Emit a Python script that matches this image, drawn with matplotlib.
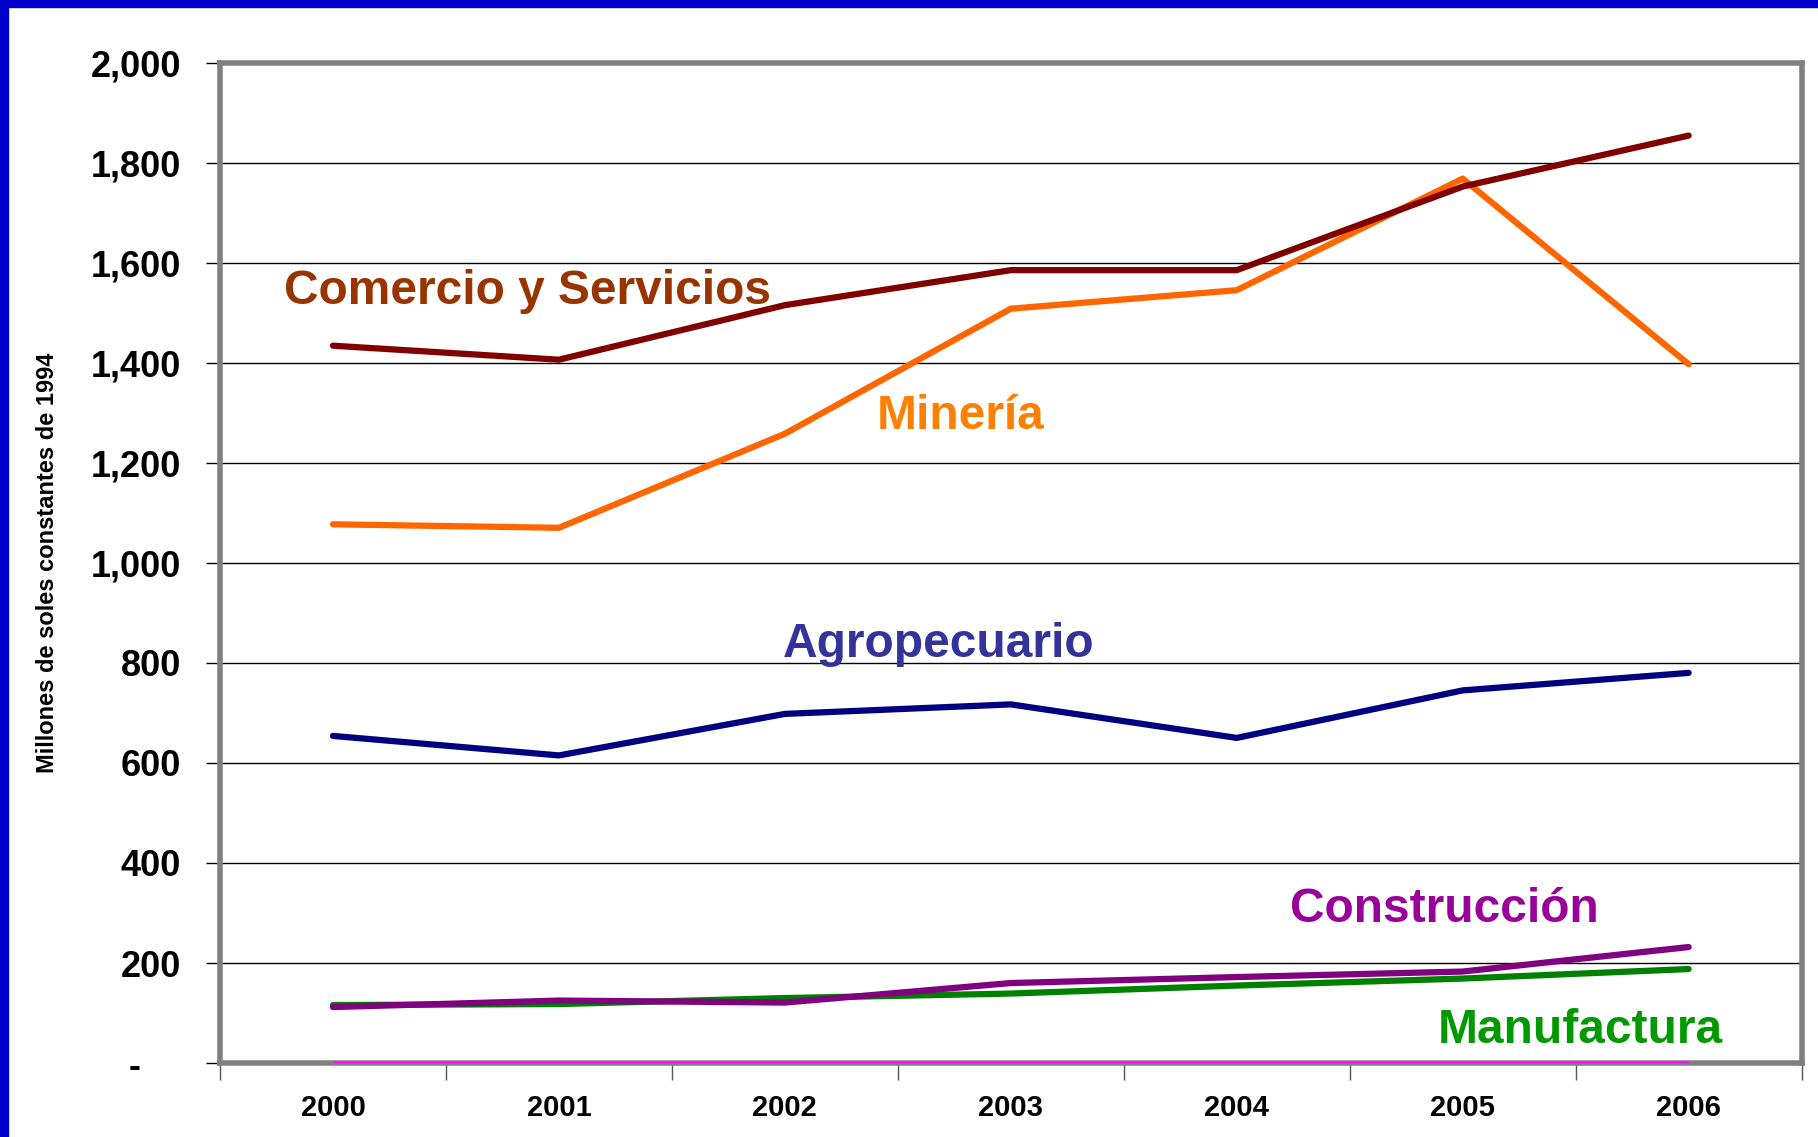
import matplotlib.pyplot as plt
import matplotlib.patches as patches
from matplotlib.ticker import FixedLocator, FuncFormatter

# Datos (millones de soles constantes de 1994)
anios = ['2000', '2001', '2002', '2003', '2004', '2005', '2006']
comercio = [1434, 1406, 1515, 1585, 1585, 1752, 1854]
mineria = [1077, 1070, 1258, 1508, 1545, 1768, 1397]
agro = [654, 615, 698, 717, 650, 745, 780]
construccion = [112, 125, 121, 160, 172, 183, 232]
manufactura = [116, 118, 130, 139, 155, 169, 188]
otros = [0, 0, 0, 0, 0, 0, 0]

plt.rcParams['font.family'] = ['Liberation Sans', 'DejaVu Sans']
plt.rcParams['font.weight'] = 'bold'

fig = plt.figure(figsize=(18.18, 11.37), dpi=100)
ax = fig.add_axes([0.121, 0.065, 0.870, 0.880])

x = list(range(len(anios)))
ax.plot(x, otros, color='#FF00FF', lw=2.5, solid_capstyle='butt', zorder=3)
ax.plot(x, manufactura, color='#008000', lw=4.5, solid_capstyle='round', zorder=4)
ax.plot(x, construccion, color='#800080', lw=4.5, solid_capstyle='round', zorder=5)
ax.plot(x, agro, color='#000080', lw=4.5, solid_capstyle='round', zorder=4)
ax.plot(x, mineria, color='#FF6600', lw=4.5, solid_capstyle='round', zorder=4)
ax.plot(x, comercio, color='#800000', lw=4.5, solid_capstyle='round', zorder=5)

ax.set_xlim(-0.5, 6.5)
ax.set_ylim(0, 2000)

# Etiquetas de las series
ax.text(0.86, 1542, 'Comercio y Servicios', color='#993300', fontsize=34.5, ha='center', va='center')
ax.text(2.78, 1292, 'Minería', color='#FF8000', fontsize=34.5, ha='center', va='center')
ax.text(2.68, 837, 'Agropecuario', color='#333399', fontsize=34.5, ha='center', va='center')
ax.text(4.92, 308, 'Construcción', color='#990099', fontsize=34.5, ha='center', va='center')
ax.text(5.52, 66, 'Manufactura', color='#009900', fontsize=34.5, ha='center', va='center')

# Ejes
ax.yaxis.set_major_locator(FixedLocator(range(0, 2001, 200)))
ax.yaxis.set_major_formatter(FuncFormatter(lambda v, p: '-    ' if v == 0 else f'{int(v):,}'))
ax.grid(axis='y', color='black', lw=1)
ax.set_axisbelow(True)
ax.tick_params(axis='y', labelsize=26, length=10, width=1, color='black', pad=18)

ax.set_xticks(x)
ax.set_xticklabels(anios)
ax.set_xticks([i - 0.5 for i in range(len(anios) + 1)], minor=True)
ax.tick_params(axis='x', which='major', length=0, labelsize=21, pad=22)
ax.tick_params(axis='x', which='minor', length=12, width=1, color='#555555')

for s in ax.spines.values():
    s.set_color('#808080')
    s.set_linewidth(4)

ax.set_ylabel('Millones de soles constantes de 1994', fontsize=17, fontweight='bold')
ax.yaxis.set_label_coords(-0.102, 0.5)

# Borde azul del recuadro
fig.patches.append(patches.Rectangle((0, 0), 0.0045, 1, transform=fig.transFigure,
                                     color='#0000CC', zorder=0))
fig.patches.append(patches.Rectangle((0, 0.9935), 1, 0.0065, transform=fig.transFigure,
                                     color='#0000CC', zorder=0))

fig.savefig('out.png', dpi=100)
